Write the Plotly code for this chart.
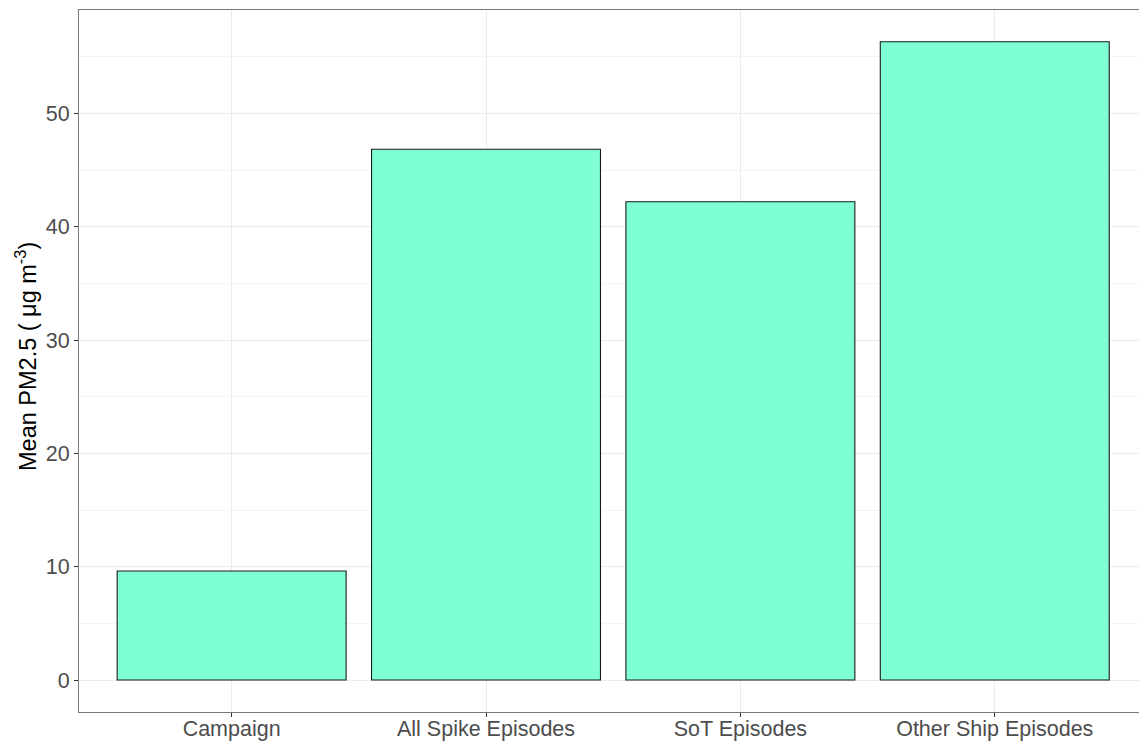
import plotly.graph_objects as go

# Mean PM2.5 per episode group
categories = ["Campaign", "All Spike Episodes", "SoT Episodes", "Other Ship Episodes"]
mean_pm25 = [9.62, 46.84, 42.21, 56.33]

y_ticks = [0, 10, 20, 30, 40, 50]

fig = go.Figure(
    go.Bar(
        x=categories,
        y=mean_pm25,
        width=0.9,
        marker=dict(color="#7FFFD4", line=dict(color="#1a1a1a", width=1.1)),
        hoverinfo="x+y",
    )
)

grid_major = "#EBEBEB"
grid_minor = "#F4F4F4"
axis_line = "#7a7a7a"
tick_font = dict(family="Liberation Sans, Arial, sans-serif", size=21.5, color="#4D4D4D")

fig.update_layout(
    width=1139,
    height=742,
    margin=dict(l=79, r=0, t=10, b=30),
    paper_bgcolor="white",
    plot_bgcolor="white",
    showlegend=False,
    bargap=0.1,
    xaxis=dict(
        type="category",
        range=[-0.6, 3.567],
        automargin=False,
        showgrid=True,
        gridcolor=grid_major,
        gridwidth=1,
        showline=True,
        linecolor=axis_line,
        linewidth=1,
        mirror=True,
        ticks="outside",
        ticklen=4,
        tickcolor="#333333",
        tickwidth=1,
        tickfont=tick_font,
        ticklabelstandoff=-7,
        zeroline=False,
    ),
    yaxis=dict(
        range=[-2.82, 59.13],
        automargin=False,
        tickvals=y_ticks,
        showgrid=True,
        gridcolor=grid_major,
        gridwidth=1,
        minor=dict(showgrid=True, gridcolor=grid_minor, gridwidth=1, tick0=0, dtick=5),
        showline=True,
        linecolor=axis_line,
        linewidth=1,
        ticks="outside",
        ticklen=4,
        tickcolor="#333333",
        tickwidth=1,
        tickfont=tick_font,
        zeroline=False,
    ),
    annotations=[
        dict(
            text="Mean PM2.5 ( μg m<sup>-3</sup>)",
            xref="paper",
            yref="paper",
            x=0,
            y=0.5057,
            xanchor="center",
            yanchor="middle",
            xshift=-53,
            textangle=-90,
            showarrow=False,
            font=dict(family="Liberation Sans, Arial, sans-serif", size=23.5, color="black"),
        )
    ],
)

fig.write_html("out.html")
